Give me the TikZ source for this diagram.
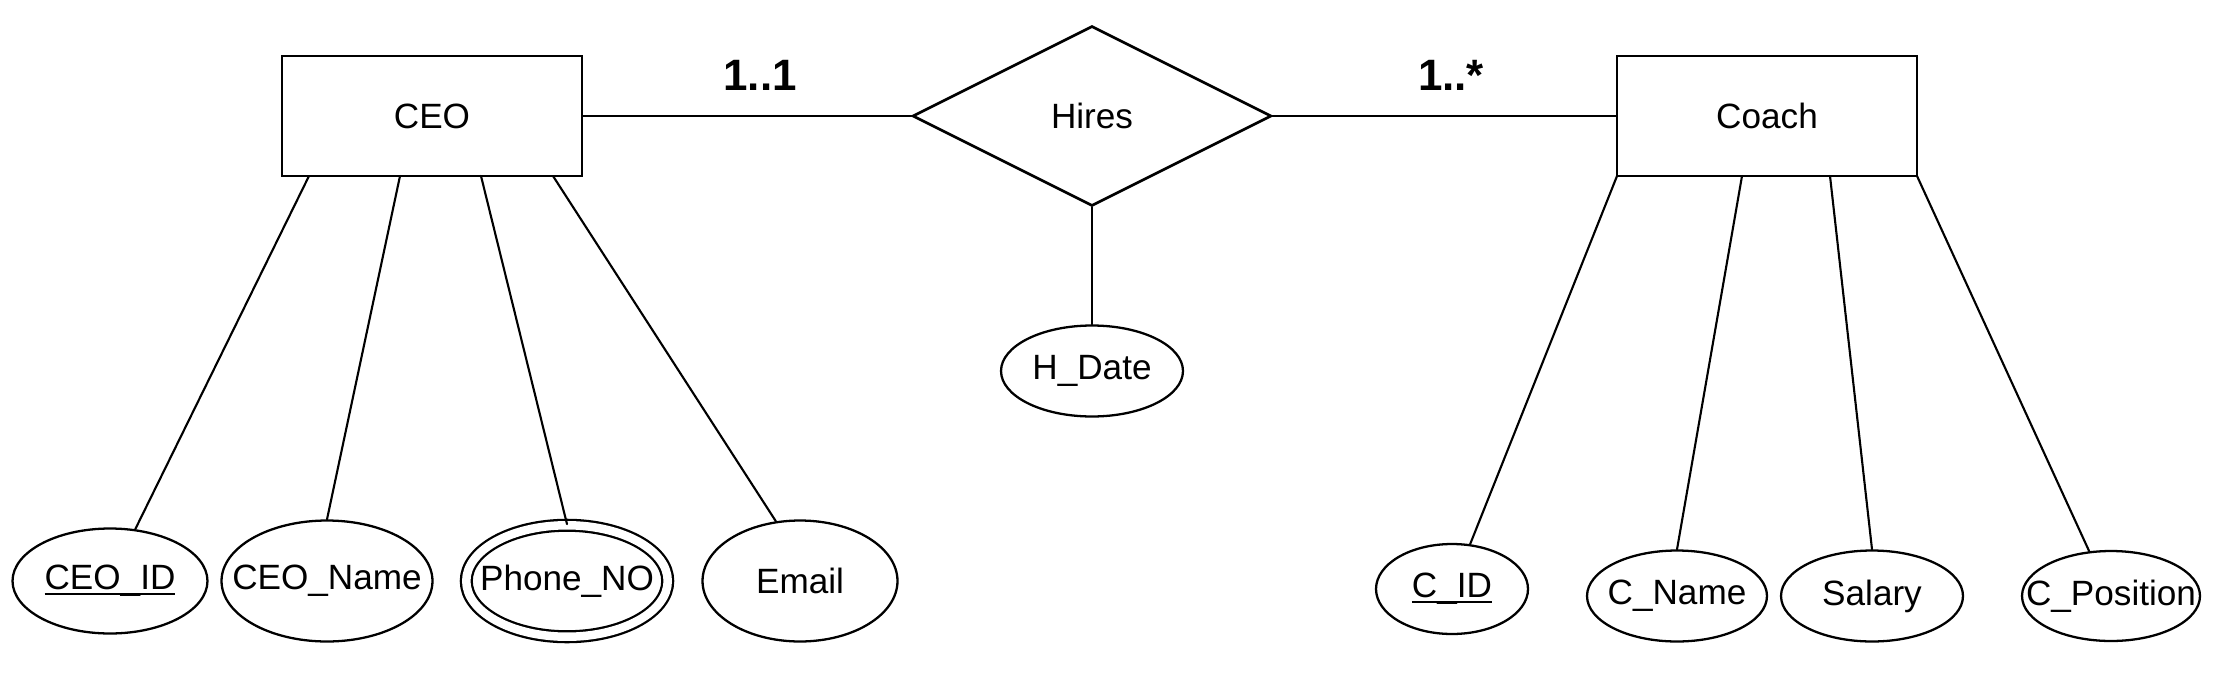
\documentclass[tikz,border=0pt]{standalone}
\usepackage{fontspec}
\setmainfont{Liberation Sans}
\usetikzlibrary{shapes.geometric}

% key attribute underline
\newcommand{\keyname}[1]{\setbox0\hbox{#1}\rlap{\rule[-0.16em]{\wd0}{0.07em}}#1}

\begin{document}
\begin{tikzpicture}[x=0.02cm,y=-0.02cm,cap=round,
    font=\fontsize{20}{24}\selectfont,
    entity/.style={draw, line width=1.6pt, rectangle, minimum width=6cm, minimum height=2.4cm},
    relation/.style={draw, line width=1.5pt, diamond, inner sep=0pt, minimum width=7.18cm, minimum height=3.6cm},
    attr/.style={draw, line width=1.3pt, ellipse, inner sep=0pt},
    multi/.style={attr, double, double distance=0.17cm},
    card/.style={font=\fontsize{25}{30}\selectfont\bfseries},
    link/.style={line width=1.2pt}]
            \useasboundingbox (0,0) rectangle (2213,676);

            % draw the entities and the relationship
            \node[entity] (ceo) at (432,116) {CEO};
            \node[relation] (hires) at (1092,116) {\makebox[0pt]{Hires}};
            \node[entity] (coach) at (1767,116) {Coach};

            % relationship lines and cardinalities
            \draw[line width=1.6pt] (ceo.east) -- (hires.west);
            \draw[line width=1.6pt] (hires.east) -- (coach.west);
            \node[card] (cardceo) at (760,75) {1..1};
            \node[card] (cardcoach) at (1451,75) {1..*};

            % attribute of hires
            \node[attr, minimum width=3.64cm, minimum height=1.82cm] (hdate) at (1092,371) {\makebox[0pt]{H\_Date}};
            \draw[line width=1.4pt] (hires.south) -- (hdate.north);

            % attributes of ceo
            \node[attr, minimum width=3.9cm, minimum height=2.1cm] (ceoid) at (110,581) {\makebox[0pt]{\keyname{CEO\_ID}}};
            \node[attr, minimum width=4.22cm, minimum height=2.42cm] (ceoname) at (327,581) {\makebox[0pt]{CEO\_Name}};
            \node[multi, minimum width=4.03cm, minimum height=2.23cm] (phone) at (567,581) {\makebox[0pt]{Phone\_NO}};
            \node[attr, minimum width=3.9cm, minimum height=2.42cm] (email) at (800,581) {\makebox[0pt]{Email}};

            \coordinate (ceoa) at (309,176);
            \coordinate (ceob) at (400,176);
            \coordinate (ceoc) at (481,176);
            \coordinate (ceod) at (553,176);
            \draw[link] (ceoa) -- (ceoid.64);
            \draw[link] (ceob) -- (ceoname.north);
            \draw[link] (ceoc) -- (phone.north);
            \draw[link] (ceod) -- (email.112);

            % attributes of coach
            \node[attr, minimum width=3.04cm, minimum height=1.8cm] (cid) at (1452,589) {\makebox[0pt]{\keyname{C\_ID}}};
            \node[attr, minimum width=3.6cm, minimum height=1.82cm] (cname) at (1677,596) {\makebox[0pt]{C\_Name}};
            \node[attr, minimum width=3.64cm, minimum height=1.82cm] (salary) at (1872,596) {\makebox[0pt]{Salary}};
            \node[attr, minimum width=3.56cm, minimum height=1.8cm] (cpos) at (2111,596) {\makebox[0pt]{C\_Position}};

            \coordinate (coacha) at (1617,176);
            \coordinate (coachb) at (1742,176);
            \coordinate (coachc) at (1830,176);
            \coordinate (coachd) at (1917,176);
            \draw[link] (coacha) -- (cid.68);
            \draw[link] (coachb) -- (cname.north);
            \draw[link] (coachc) -- (salary.north);
            \draw[link] (coachd) -- (cpos.116);

        \end{tikzpicture}
\end{document}
